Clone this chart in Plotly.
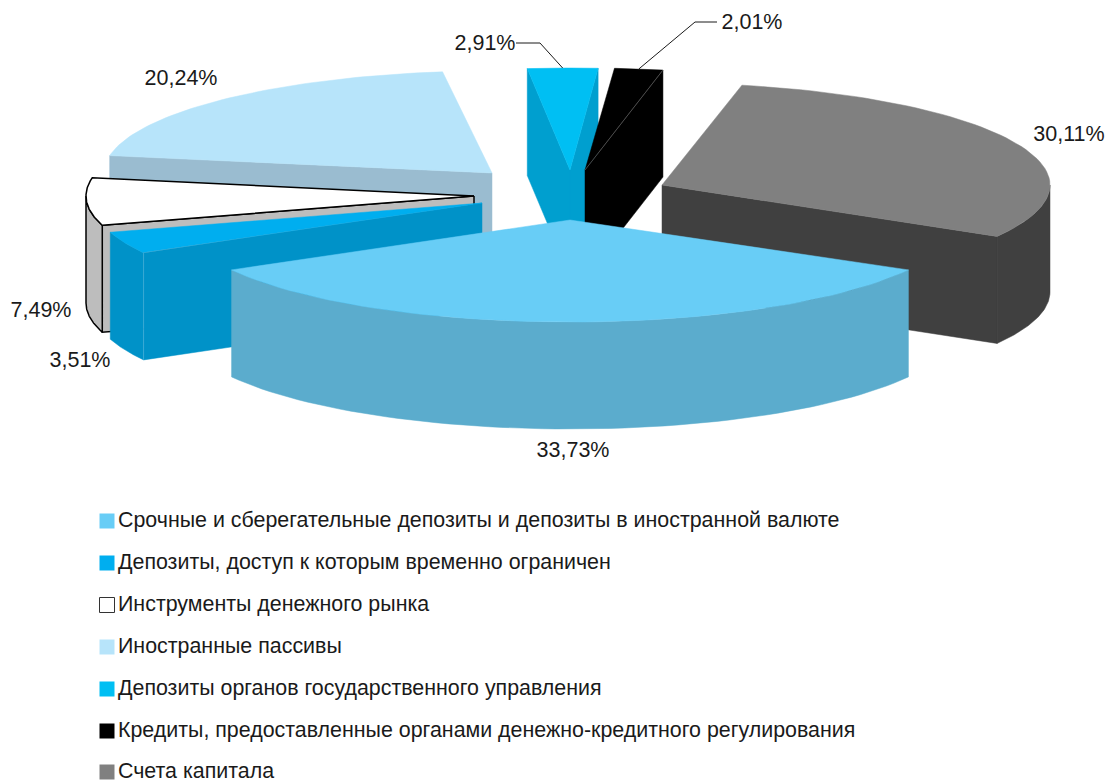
import math
import plotly.graph_objects as go

# ---- data (clockwise from the large front slice) ----
categories = [
    "Срочные и сберегательные депозиты и депозиты в иностранной валюте",
    "Депозиты, доступ к которым временно ограничен",
    "Инструменты денежного рынка",
    "Иностранные пассивы",
    "Депозиты органов государственного управления",
    "Кредиты, предоставленные органами денежно-кредитного регулирования",
    "Счета капитала",
]
values = [33.73, 3.51, 7.49, 20.24, 2.91, 2.01, 30.11]
value_labels = ["33,73%", "3,51%", "7,49%", "20,24%", "2,91%", "2,01%", "30,11%"]

# ---- style and layout ----
top_colors = ["#68cdf6", "#00aeef", "#ffffff", "#b7e4fa", "#00bff3", "#000000", "#808080"]
side_colors = ["#5baccd", "#0092c8", "#bdbdbd", "#9abcd0", "#009fcf", "#000000", "#404040"]
apex_x = [570, 482, 474, 492, 570, 585, 662]
apex_y = [220, 203, 196, 173, 170, 170, 185]
angle_nudge = [0, 0, 0, -0.5, 0.5, 0.7, 1.0]
RX, RY, DEPTH = 388, 102, 107
draw_order = [4, 5, 6, 3, 2, 1, 0]
label_x = [573, 80, 41, 181, 485, 752, 1069]
label_y = [452, 362, 312, 80, 45, 24, 136]
legend_x = 107
legend_y = [521, 563, 605, 647, 689, 731, 772]
legend_text_y = [522, 564, 606, 648, 690, 732, 773]
LABEL_FONT = dict(family="Liberation Sans, Arial, sans-serif", size=21.5, color="#1a1a1a")
LEGEND_FONT = dict(family="Liberation Sans, Arial, sans-serif", size=21.4, color="#1a1a1a")

# ---- geometry derived from the values ----
angles = []
cur = 180 - values[0] / 100 * 360 / 2
for i, v in enumerate(values):
    angles.append((cur + angle_nudge[i], cur + v / 100 * 360 + angle_nudge[i]))
    cur += v / 100 * 360


def pt(i, theta, dz=0):
    t = math.radians(theta)
    return apex_x[i] + RX * math.sin(t), apex_y[i] - RY * math.cos(t) + dz


def arc(i, a, b, dz=0, n=60):
    return [pt(i, a + (b - a) * k / n, dz) for k in range(n + 1)]


fig = go.Figure()


def poly(points, fill, line_color=None, line_width=0):
    xs = [p[0] for p in points] + [points[0][0]]
    ys = [p[1] for p in points] + [points[0][1]]
    fig.add_trace(go.Scatter(
        x=xs, y=ys, mode="lines", fill="toself", fillcolor=fill,
        line=dict(color=line_color or fill, width=line_width if line_color else 0.5),
        hoverinfo="skip", showlegend=False))


def seam(points, color, width=0.7):
    fig.add_trace(go.Scatter(
        x=[p[0] for p in points], y=[p[1] for p in points], mode="lines",
        line=dict(color=color, width=width), hoverinfo="skip", showlegend=False))


for i in draw_order:
    a, b = angles[i]
    side = side_colors[i]
    outline = "#000000" if categories[i] == categories[2] else None
    lw = 1.5 if outline else 0
    apex = (apex_x[i], apex_y[i])
    apex_low = (apex_x[i], apex_y[i] + DEPTH)
    # radial faces
    if math.sin(math.radians(a)) < 0:
        poly([apex, pt(i, a), pt(i, a, DEPTH), apex_low], side, outline, lw)
    if math.sin(math.radians(b)) > 0:
        poly([apex, pt(i, b), pt(i, b, DEPTH), apex_low], side, outline, lw)
    # outer wall: the parts of the rim that face the viewer (90..270 degrees)
    for k in (0, 360, -360):
        lo, hi = max(a, 90 + k), min(b, 270 + k)
        if lo < hi:
            poly(arc(i, lo, hi) + arc(i, hi, lo, DEPTH), side, outline, lw)
    # top
    poly([apex] + arc(i, a, b), top_colors[i], outline, lw)

# thin light seams seen in the original
seam([(apex_x[5], apex_y[5]), pt(5, angles[5][1])], "#666666")
seam([pt(1, angles[1][0]), pt(1, angles[1][0], DEPTH)], "#4fb3d9")

# leader lines for the two small slices
mid4 = pt(4, sum(angles[4]) / 2)
mid5 = pt(5, sum(angles[5]) / 2)
seam([(516, 43), (540, 43), (mid4[0], mid4[1])], "#1a1a1a", 1)
seam([(717, 22), (695, 22), (mid5[0], mid5[1])], "#1a1a1a", 1)

# value labels
fig.add_trace(go.Scatter(
    x=label_x, y=label_y, text=value_labels, mode="text",
    textposition="middle center", textfont=LABEL_FONT,
    hoverinfo="skip", showlegend=False))

# legend
for i, name in enumerate(categories):
    white = top_colors[i] == "#ffffff"
    fig.add_trace(go.Scatter(
        x=[legend_x], y=[legend_y[i]], mode="markers", name=name,
        marker=dict(symbol="square", size=15, color=top_colors[i],
                    line=dict(color="#333333" if white else top_colors[i], width=1 if white else 0)),
        hoverinfo="skip", showlegend=False))
fig.add_trace(go.Scatter(
    x=[legend_x + 11] * len(categories), y=legend_text_y, mode="text",
    text=categories, textposition="middle right", textfont=LEGEND_FONT,
    hoverinfo="skip", showlegend=False))

fig.update_layout(
    width=1108, height=780, margin=dict(l=0, r=0, t=0, b=0),
    paper_bgcolor="#ffffff", plot_bgcolor="#ffffff", showlegend=False,
    xaxis=dict(range=[0, 1108], visible=False, fixedrange=True),
    yaxis=dict(range=[780, 0], visible=False, fixedrange=True),
)
fig.write_html("out.html", config=dict(displayModeBar=False),
               post_script="document.body.style.margin='0';")
